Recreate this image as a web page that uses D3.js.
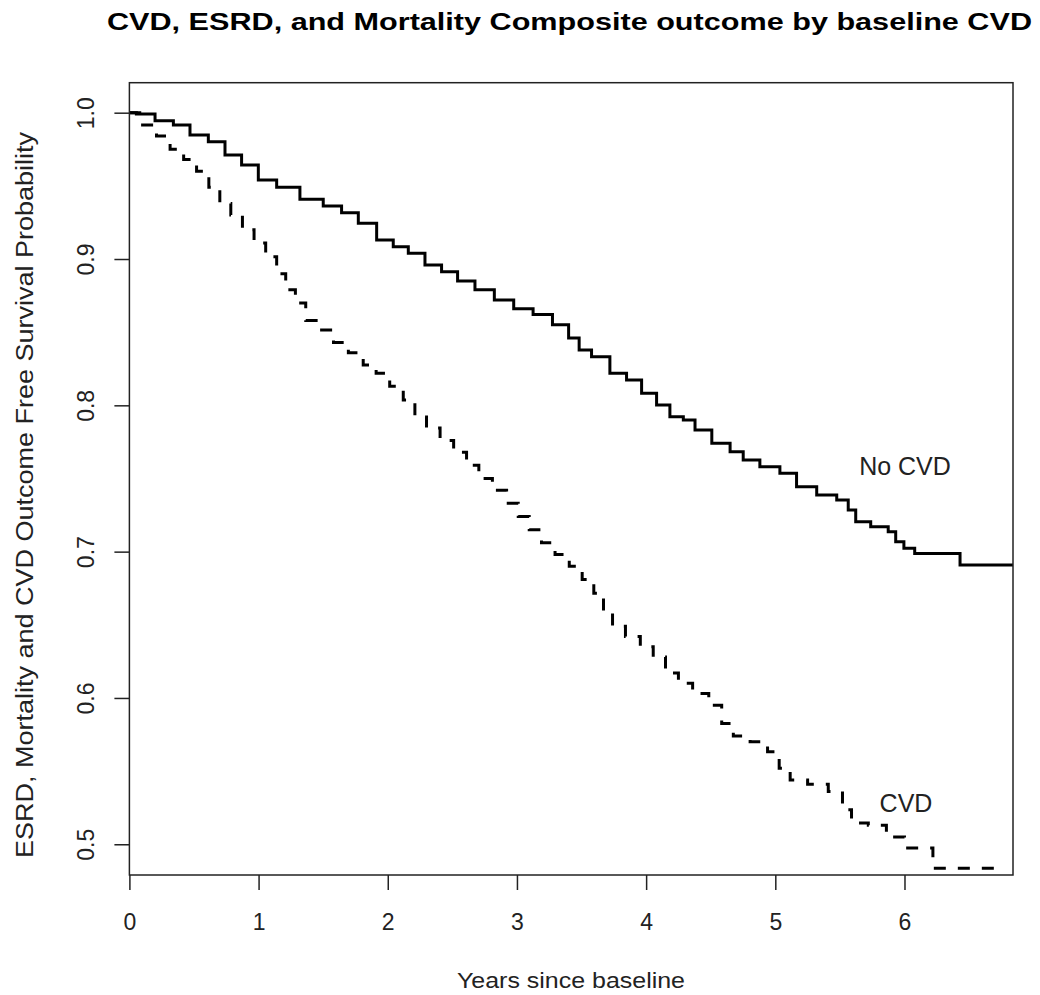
<!DOCTYPE html>
<html>
<head>
<meta charset="utf-8">
<script src="https://cdn.jsdelivr.net/npm/d3@7"></script>
<style>
  html, body { margin: 0; padding: 0; background: #fff; }
  svg { display: block; }
  text { font-family: "Liberation Sans", Arial, sans-serif; }
</style>
</head>
<body>
<svg id="chart" width="1040" height="995"></svg>
<script>
// ---- Data ----
const noCvdTime = [0, 0.108, 0.289, 0.392, 0.546, 0.676, 0.804, 0.933, 1.063, 1.217, 1.423, 1.578, 1.707, 1.837, 1.991, 2.094, 2.224, 2.352, 2.481, 2.60, 2.75, 2.90, 3.05, 3.20, 3.35, 3.45, 3.513, 3.642, 3.797, 3.90, 4.03, 4.132, 4.236, 4.34, 4.417, 4.60, 4.70, 4.803, 4.958, 5.113, 5.216, 5.425, 5.526, 5.603, 5.642, 5.835, 5.913, 5.951, 6.04, 6.118, 6.42, 6.44, 6.84];
const noCvdSurv = [1.0, 0.9991, 0.9945, 0.9916, 0.9848, 0.9802, 0.9711, 0.9643, 0.954, 0.949, 0.9408, 0.9362, 0.9317, 0.9244, 0.913, 0.9084, 0.9039, 0.8959, 0.8913, 0.885, 0.879, 0.872, 0.866, 0.862, 0.855, 0.846, 0.8378, 0.8332, 0.8219, 0.8173, 0.8082, 0.8002, 0.7922, 0.790, 0.7831, 0.7740, 0.7683, 0.7626, 0.758, 0.7535, 0.7444, 0.7387, 0.7353, 0.7284, 0.7204, 0.717, 0.7136, 0.7068, 0.7023, 0.6988, 0.6988, 0.6908, 0.6908];

const cvdTime = [0, 0.16, 0.26, 0.37, 0.47, 0.57, 0.66, 0.74, 0.83, 0.92, 1.01, 1.10, 1.18, 1.24, 1.33, 1.40, 1.53, 1.63, 1.76, 1.86, 1.96, 2.07, 2.17, 2.25, 2.35, 2.46, 2.56, 2.66, 2.75, 2.87, 2.97, 3.05, 3.14, 3.24, 3.35, 3.46, 3.55, 3.64, 3.70, 3.78, 3.90, 4.01, 4.10, 4.20, 4.30, 4.42, 4.55, 4.62, 4.73, 4.88, 5.00, 5.06, 5.17, 5.33, 5.49, 5.55, 5.63, 5.81, 5.91, 6.09, 6.21, 6.23, 6.72];
const cvdSurv = [1.0, 0.9916, 0.984, 0.975, 0.968, 0.960, 0.949, 0.938, 0.930, 0.920, 0.911, 0.9016, 0.890, 0.879, 0.870, 0.858, 0.8515, 0.843, 0.836, 0.8275, 0.822, 0.813, 0.8036, 0.792, 0.7845, 0.776, 0.768, 0.759, 0.750, 0.742, 0.733, 0.724, 0.715, 0.706, 0.698, 0.690, 0.681, 0.6716, 0.658, 0.649, 0.642, 0.635, 0.628, 0.617, 0.610, 0.603, 0.595, 0.5825, 0.574, 0.570, 0.5633, 0.552, 0.544, 0.541, 0.536, 0.5236, 0.5145, 0.513, 0.505, 0.4975, 0.4975, 0.4836, 0.4836];

const xTicks = [0, 1, 2, 3, 4, 5, 6];
const yTicks = [0.5, 0.6, 0.7, 0.8, 0.9, 1.0];
const yTickLabels = ["0.5", "0.6", "0.7", "0.8", "0.9", "1.0"];

const titleText = "CVD, ESRD, and Mortality Composite outcome by baseline CVD";
const xLabelText = "Years since baseline";
const yLabelText = "ESRD, Mortality and CVD Outcome Free Survival Probability";

// ---- Layout ----
const svg = d3.select("#chart");
const plot = { left: 129.4, right: 1013, top: 82.7, bottom: 875 };

const x = d3.scaleLinear().domain([0, 6.84]).range([plot.left, plot.right]);
const y = d3.scaleLinear().domain([0.479, 1.0205]).range([plot.bottom, plot.top]);

svg.append("defs").append("clipPath").attr("id", "clip")
  .append("rect")
  .attr("x", plot.left).attr("y", plot.top)
  .attr("width", plot.right - plot.left).attr("height", plot.bottom - plot.top);

// Curves
const line = d3.line().x(d => x(d[0])).y(d => y(d[1])).curve(d3.curveStep);
const noCvd = noCvdTime.map((t, i) => [t, noCvdSurv[i]]);
const cvd = cvdTime.map((t, i) => [t, cvdSurv[i]]);

const g = svg.append("g").attr("clip-path", "url(#clip)");
g.append("path").datum(noCvd).attr("d", line)
  .attr("fill", "none").attr("stroke", "#000").attr("stroke-width", 3)
  .attr("stroke-linejoin", "miter").attr("stroke-linecap", "butt");
g.append("path").datum(cvd).attr("d", line)
  .attr("fill", "none").attr("stroke", "#000").attr("stroke-width", 3)
  .attr("stroke-dasharray", "12,12")
  .attr("stroke-linejoin", "miter").attr("stroke-linecap", "butt");

// Box
svg.append("rect")
  .attr("x", plot.left).attr("y", plot.top)
  .attr("width", plot.right - plot.left).attr("height", plot.bottom - plot.top)
  .attr("fill", "none").attr("stroke", "#222").attr("stroke-width", 1.5);

// X axis
const xAxis = d3.axisBottom(x).tickValues(xTicks).tickSize(15).tickPadding(24)
  .tickFormat(d3.format("d"));
const xg = svg.append("g").attr("transform", `translate(0,${plot.bottom})`).call(xAxis);
xg.select(".domain").remove();
xg.selectAll(".tick line").attr("stroke", "#222").attr("stroke-width", 1.5);
xg.selectAll(".tick text")
  .attr("font-family", "Liberation Sans, Arial, sans-serif")
  .attr("font-size", 23).attr("fill", "#222").attr("dy", null).attr("y", 55);

// Y axis
const yAxis = d3.axisLeft(y).tickValues(yTicks).tickSize(15)
  .tickFormat((d, i) => yTickLabels[i]);
const yg = svg.append("g").attr("transform", `translate(${plot.left},0)`).call(yAxis);
yg.select(".domain").remove();
yg.selectAll(".tick line").attr("stroke", "#222").attr("stroke-width", 1.5);
yg.selectAll(".tick text")
  .attr("font-family", "Liberation Sans, Arial, sans-serif")
  .attr("font-size", 23).attr("fill", "#222")
  .attr("x", null).attr("dy", null)
  .attr("text-anchor", "middle")
  .attr("transform", `translate(${94 - plot.left},0) rotate(-90)`);

// Title
svg.append("text")
  .attr("x", 569.5).attr("y", 30)
  .attr("text-anchor", "middle")
  .attr("font-size", 23).attr("font-weight", "bold").attr("fill", "#000")
  .attr("textLength", 925).attr("lengthAdjust", "spacingAndGlyphs")
  .text(titleText);

// X label
svg.append("text")
  .attr("x", 571).attr("y", 988)
  .attr("text-anchor", "middle")
  .attr("font-size", 22).attr("fill", "#222")
  .attr("textLength", 228).attr("lengthAdjust", "spacingAndGlyphs")
  .text(xLabelText);

// Y label
svg.append("text")
  .attr("transform", "translate(33,495) rotate(-90)")
  .attr("text-anchor", "middle")
  .attr("font-size", 23).attr("fill", "#222")
  .attr("textLength", 726).attr("lengthAdjust", "spacingAndGlyphs")
  .text(yLabelText);

// Curve labels
svg.append("text").attr("x", 905).attr("y", 475).attr("text-anchor", "middle")
  .attr("font-size", 25).attr("fill", "#222").text("No CVD");
svg.append("text").attr("x", 906).attr("y", 812).attr("text-anchor", "middle")
  .attr("font-size", 25).attr("fill", "#222").text("CVD");
</script>
</body>
</html>
